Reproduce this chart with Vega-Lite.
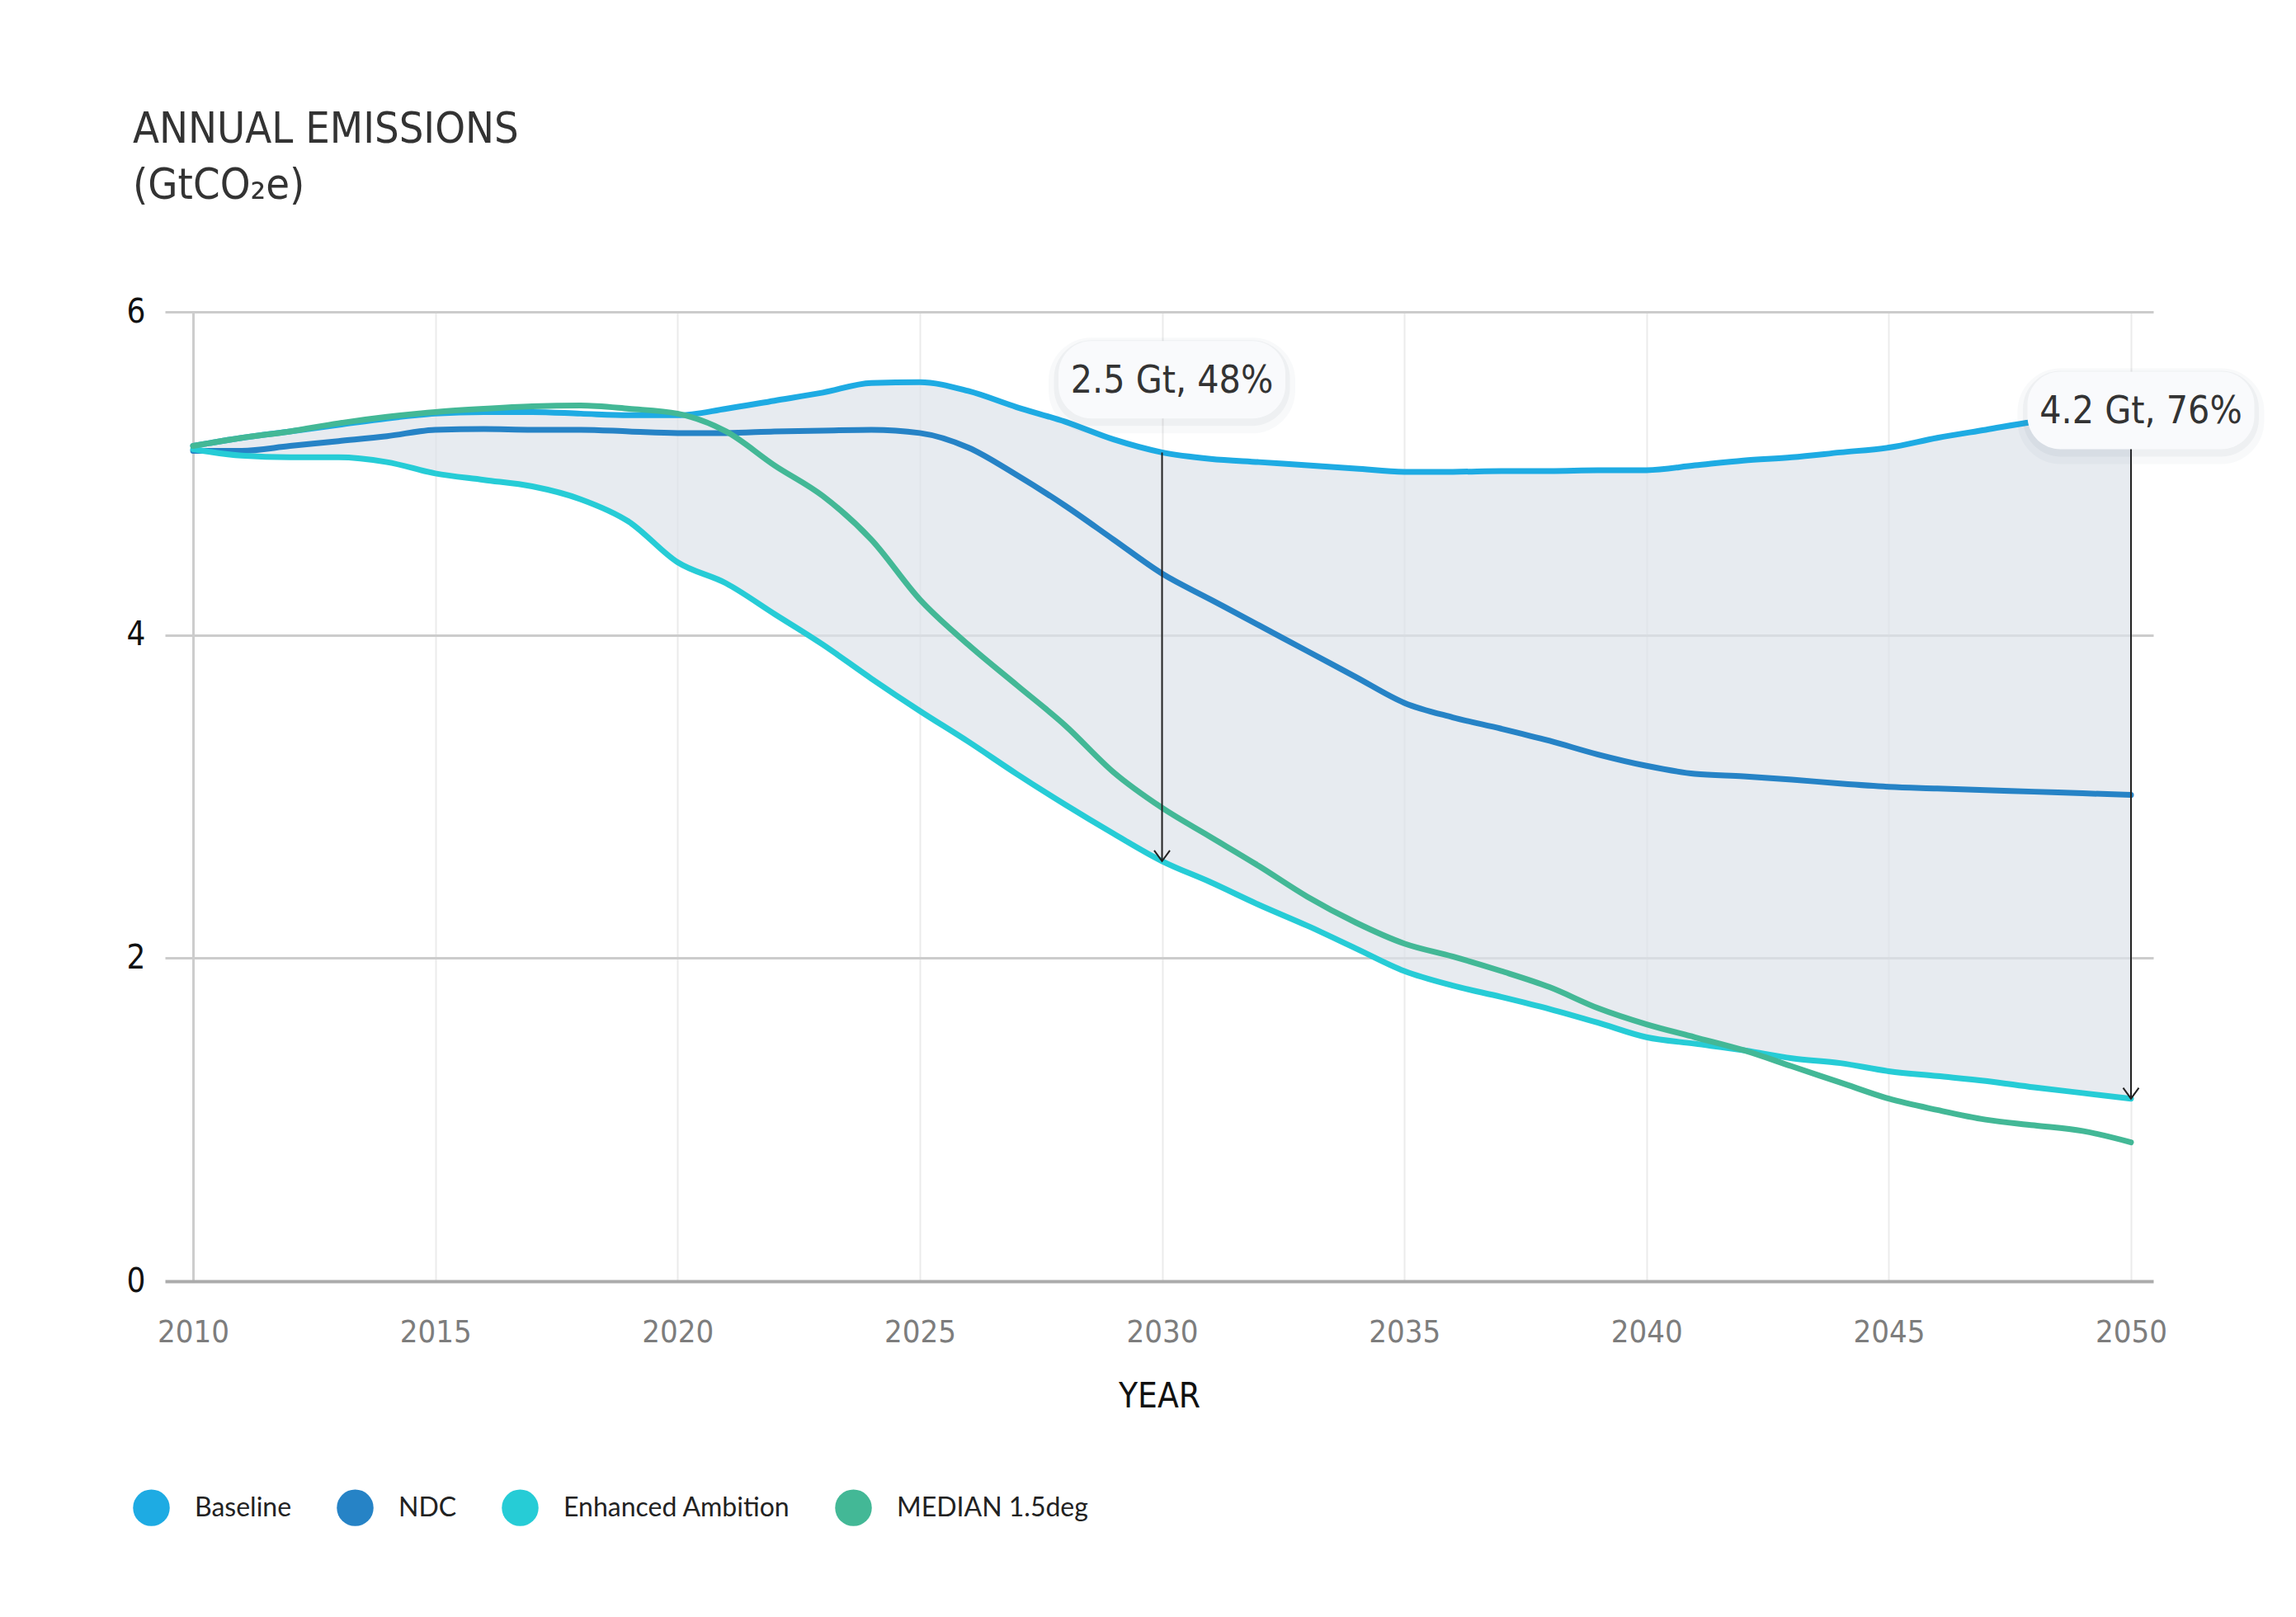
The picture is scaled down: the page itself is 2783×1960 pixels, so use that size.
{
  "$schema": "https://vega.github.io/schema/vega-lite/v6.json",
  "width": 2410,
  "height": 1175,
  "autosize": {"type": "none"},
  "padding": {"left": 200, "top": 378, "right": 173, "bottom": 407},
  "background": "#ffffff",
  "config": {
    "view": {"stroke": null},
    "font": "DejaVu Sans Condensed, sans-serif"
  },
  "title": {
    "text": ["ANNUAL EMISSIONS", "(GtCO₂e)"],
    "anchor": "start",
    "frame": "bounds",
    "font": "DejaVu Sans Condensed, sans-serif",
    "fontSize": 52,
    "fontWeight": "normal",
    "color": "#333333",
    "lineHeight": 68,
    "offset": 106,
    "dx": 8
  },
  "datasets": {
    "emissions": [
      {"year": 2010, "scenario": "Baseline", "value": 5.17},
      {"year": 2011, "scenario": "Baseline", "value": 5.22},
      {"year": 2012, "scenario": "Baseline", "value": 5.26},
      {"year": 2013, "scenario": "Baseline", "value": 5.30},
      {"year": 2014, "scenario": "Baseline", "value": 5.34},
      {"year": 2015, "scenario": "Baseline", "value": 5.37},
      {"year": 2016, "scenario": "Baseline", "value": 5.38},
      {"year": 2017, "scenario": "Baseline", "value": 5.38},
      {"year": 2018, "scenario": "Baseline", "value": 5.37},
      {"year": 2019, "scenario": "Baseline", "value": 5.36},
      {"year": 2020, "scenario": "Baseline", "value": 5.36},
      {"year": 2021, "scenario": "Baseline", "value": 5.40},
      {"year": 2022, "scenario": "Baseline", "value": 5.45},
      {"year": 2023, "scenario": "Baseline", "value": 5.50},
      {"year": 2024, "scenario": "Baseline", "value": 5.56},
      {"year": 2025, "scenario": "Baseline", "value": 5.565},
      {"year": 2026, "scenario": "Baseline", "value": 5.51},
      {"year": 2027, "scenario": "Baseline", "value": 5.41},
      {"year": 2028, "scenario": "Baseline", "value": 5.32},
      {"year": 2029, "scenario": "Baseline", "value": 5.21},
      {"year": 2030, "scenario": "Baseline", "value": 5.13},
      {"year": 2031, "scenario": "Baseline", "value": 5.09},
      {"year": 2032, "scenario": "Baseline", "value": 5.07},
      {"year": 2033, "scenario": "Baseline", "value": 5.05},
      {"year": 2034, "scenario": "Baseline", "value": 5.03},
      {"year": 2035, "scenario": "Baseline", "value": 5.01},
      {"year": 2036, "scenario": "Baseline", "value": 5.01},
      {"year": 2037, "scenario": "Baseline", "value": 5.015},
      {"year": 2038, "scenario": "Baseline", "value": 5.015},
      {"year": 2039, "scenario": "Baseline", "value": 5.02},
      {"year": 2040, "scenario": "Baseline", "value": 5.02},
      {"year": 2041, "scenario": "Baseline", "value": 5.05},
      {"year": 2042, "scenario": "Baseline", "value": 5.08},
      {"year": 2043, "scenario": "Baseline", "value": 5.10},
      {"year": 2044, "scenario": "Baseline", "value": 5.13},
      {"year": 2045, "scenario": "Baseline", "value": 5.16},
      {"year": 2046, "scenario": "Baseline", "value": 5.22},
      {"year": 2047, "scenario": "Baseline", "value": 5.27},
      {"year": 2048, "scenario": "Baseline", "value": 5.32},
      {"year": 2049, "scenario": "Baseline", "value": 5.35},
      {"year": 2050, "scenario": "Baseline", "value": 5.37},

      {"year": 2010, "scenario": "NDC", "value": 5.14},
      {"year": 2011, "scenario": "NDC", "value": 5.14},
      {"year": 2012, "scenario": "NDC", "value": 5.17},
      {"year": 2013, "scenario": "NDC", "value": 5.20},
      {"year": 2014, "scenario": "NDC", "value": 5.23},
      {"year": 2015, "scenario": "NDC", "value": 5.27},
      {"year": 2016, "scenario": "NDC", "value": 5.275},
      {"year": 2017, "scenario": "NDC", "value": 5.27},
      {"year": 2018, "scenario": "NDC", "value": 5.27},
      {"year": 2019, "scenario": "NDC", "value": 5.26},
      {"year": 2020, "scenario": "NDC", "value": 5.25},
      {"year": 2021, "scenario": "NDC", "value": 5.25},
      {"year": 2022, "scenario": "NDC", "value": 5.26},
      {"year": 2023, "scenario": "NDC", "value": 5.265},
      {"year": 2024, "scenario": "NDC", "value": 5.27},
      {"year": 2025, "scenario": "NDC", "value": 5.25},
      {"year": 2026, "scenario": "NDC", "value": 5.16},
      {"year": 2027, "scenario": "NDC", "value": 4.99},
      {"year": 2028, "scenario": "NDC", "value": 4.80},
      {"year": 2029, "scenario": "NDC", "value": 4.59},
      {"year": 2030, "scenario": "NDC", "value": 4.38},
      {"year": 2031, "scenario": "NDC", "value": 4.22},
      {"year": 2032, "scenario": "NDC", "value": 4.06},
      {"year": 2033, "scenario": "NDC", "value": 3.90},
      {"year": 2034, "scenario": "NDC", "value": 3.74},
      {"year": 2035, "scenario": "NDC", "value": 3.58},
      {"year": 2036, "scenario": "NDC", "value": 3.49},
      {"year": 2037, "scenario": "NDC", "value": 3.42},
      {"year": 2038, "scenario": "NDC", "value": 3.345},
      {"year": 2039, "scenario": "NDC", "value": 3.26},
      {"year": 2040, "scenario": "NDC", "value": 3.19},
      {"year": 2041, "scenario": "NDC", "value": 3.14},
      {"year": 2042, "scenario": "NDC", "value": 3.125},
      {"year": 2043, "scenario": "NDC", "value": 3.105},
      {"year": 2044, "scenario": "NDC", "value": 3.08},
      {"year": 2045, "scenario": "NDC", "value": 3.06},
      {"year": 2046, "scenario": "NDC", "value": 3.05},
      {"year": 2047, "scenario": "NDC", "value": 3.04},
      {"year": 2048, "scenario": "NDC", "value": 3.03},
      {"year": 2049, "scenario": "NDC", "value": 3.02},
      {"year": 2050, "scenario": "NDC", "value": 3.01},

      {"year": 2010, "scenario": "Enhanced Ambition", "value": 5.15},
      {"year": 2011, "scenario": "Enhanced Ambition", "value": 5.11},
      {"year": 2012, "scenario": "Enhanced Ambition", "value": 5.10},
      {"year": 2013, "scenario": "Enhanced Ambition", "value": 5.10},
      {"year": 2014, "scenario": "Enhanced Ambition", "value": 5.07},
      {"year": 2015, "scenario": "Enhanced Ambition", "value": 5.00},
      {"year": 2016, "scenario": "Enhanced Ambition", "value": 4.96},
      {"year": 2017, "scenario": "Enhanced Ambition", "value": 4.92},
      {"year": 2018, "scenario": "Enhanced Ambition", "value": 4.84},
      {"year": 2019, "scenario": "Enhanced Ambition", "value": 4.70},
      {"year": 2020, "scenario": "Enhanced Ambition", "value": 4.45},
      {"year": 2021, "scenario": "Enhanced Ambition", "value": 4.32},
      {"year": 2022, "scenario": "Enhanced Ambition", "value": 4.13},
      {"year": 2023, "scenario": "Enhanced Ambition", "value": 3.94},
      {"year": 2024, "scenario": "Enhanced Ambition", "value": 3.73},
      {"year": 2025, "scenario": "Enhanced Ambition", "value": 3.53},
      {"year": 2026, "scenario": "Enhanced Ambition", "value": 3.34},
      {"year": 2027, "scenario": "Enhanced Ambition", "value": 3.14},
      {"year": 2028, "scenario": "Enhanced Ambition", "value": 2.95},
      {"year": 2029, "scenario": "Enhanced Ambition", "value": 2.77},
      {"year": 2030, "scenario": "Enhanced Ambition", "value": 2.60},
      {"year": 2031, "scenario": "Enhanced Ambition", "value": 2.47},
      {"year": 2032, "scenario": "Enhanced Ambition", "value": 2.33},
      {"year": 2033, "scenario": "Enhanced Ambition", "value": 2.20},
      {"year": 2034, "scenario": "Enhanced Ambition", "value": 2.06},
      {"year": 2035, "scenario": "Enhanced Ambition", "value": 1.92},
      {"year": 2036, "scenario": "Enhanced Ambition", "value": 1.83},
      {"year": 2037, "scenario": "Enhanced Ambition", "value": 1.76},
      {"year": 2038, "scenario": "Enhanced Ambition", "value": 1.685},
      {"year": 2039, "scenario": "Enhanced Ambition", "value": 1.60},
      {"year": 2040, "scenario": "Enhanced Ambition", "value": 1.51},
      {"year": 2041, "scenario": "Enhanced Ambition", "value": 1.47},
      {"year": 2042, "scenario": "Enhanced Ambition", "value": 1.43},
      {"year": 2043, "scenario": "Enhanced Ambition", "value": 1.38},
      {"year": 2044, "scenario": "Enhanced Ambition", "value": 1.35},
      {"year": 2045, "scenario": "Enhanced Ambition", "value": 1.30},
      {"year": 2046, "scenario": "Enhanced Ambition", "value": 1.27},
      {"year": 2047, "scenario": "Enhanced Ambition", "value": 1.24},
      {"year": 2048, "scenario": "Enhanced Ambition", "value": 1.20},
      {"year": 2049, "scenario": "Enhanced Ambition", "value": 1.165},
      {"year": 2050, "scenario": "Enhanced Ambition", "value": 1.13},

      {"year": 2010, "scenario": "MEDIAN 1.5deg", "value": 5.17},
      {"year": 2011, "scenario": "MEDIAN 1.5deg", "value": 5.22},
      {"year": 2012, "scenario": "MEDIAN 1.5deg", "value": 5.26},
      {"year": 2013, "scenario": "MEDIAN 1.5deg", "value": 5.31},
      {"year": 2014, "scenario": "MEDIAN 1.5deg", "value": 5.35},
      {"year": 2015, "scenario": "MEDIAN 1.5deg", "value": 5.38},
      {"year": 2016, "scenario": "MEDIAN 1.5deg", "value": 5.40},
      {"year": 2017, "scenario": "MEDIAN 1.5deg", "value": 5.415},
      {"year": 2018, "scenario": "MEDIAN 1.5deg", "value": 5.42},
      {"year": 2019, "scenario": "MEDIAN 1.5deg", "value": 5.40},
      {"year": 2020, "scenario": "MEDIAN 1.5deg", "value": 5.37},
      {"year": 2021, "scenario": "MEDIAN 1.5deg", "value": 5.26},
      {"year": 2022, "scenario": "MEDIAN 1.5deg", "value": 5.05},
      {"year": 2023, "scenario": "MEDIAN 1.5deg", "value": 4.86},
      {"year": 2024, "scenario": "MEDIAN 1.5deg", "value": 4.59},
      {"year": 2025, "scenario": "MEDIAN 1.5deg", "value": 4.22},
      {"year": 2026, "scenario": "MEDIAN 1.5deg", "value": 3.94},
      {"year": 2027, "scenario": "MEDIAN 1.5deg", "value": 3.69},
      {"year": 2028, "scenario": "MEDIAN 1.5deg", "value": 3.44},
      {"year": 2029, "scenario": "MEDIAN 1.5deg", "value": 3.15},
      {"year": 2030, "scenario": "MEDIAN 1.5deg", "value": 2.93},
      {"year": 2031, "scenario": "MEDIAN 1.5deg", "value": 2.75},
      {"year": 2032, "scenario": "MEDIAN 1.5deg", "value": 2.57},
      {"year": 2033, "scenario": "MEDIAN 1.5deg", "value": 2.38},
      {"year": 2034, "scenario": "MEDIAN 1.5deg", "value": 2.22},
      {"year": 2035, "scenario": "MEDIAN 1.5deg", "value": 2.09},
      {"year": 2036, "scenario": "MEDIAN 1.5deg", "value": 2.01},
      {"year": 2037, "scenario": "MEDIAN 1.5deg", "value": 1.92},
      {"year": 2038, "scenario": "MEDIAN 1.5deg", "value": 1.82},
      {"year": 2039, "scenario": "MEDIAN 1.5deg", "value": 1.69},
      {"year": 2040, "scenario": "MEDIAN 1.5deg", "value": 1.59},
      {"year": 2041, "scenario": "MEDIAN 1.5deg", "value": 1.51},
      {"year": 2042, "scenario": "MEDIAN 1.5deg", "value": 1.43},
      {"year": 2043, "scenario": "MEDIAN 1.5deg", "value": 1.33},
      {"year": 2044, "scenario": "MEDIAN 1.5deg", "value": 1.23},
      {"year": 2045, "scenario": "MEDIAN 1.5deg", "value": 1.13},
      {"year": 2046, "scenario": "MEDIAN 1.5deg", "value": 1.06},
      {"year": 2047, "scenario": "MEDIAN 1.5deg", "value": 1.00},
      {"year": 2048, "scenario": "MEDIAN 1.5deg", "value": 0.965},
      {"year": 2049, "scenario": "MEDIAN 1.5deg", "value": 0.93},
      {"year": 2050, "scenario": "MEDIAN 1.5deg", "value": 0.86}
    ],
    "callouts": [
      {"year": 2030, "baseline": 5.13, "ambition": 2.60, "labelAt": 5.58, "label": "2.5 Gt, 48%"},
      {"year": 2050, "baseline": 5.37, "ambition": 1.13, "labelAt": 5.39, "label": "4.2 Gt, 76%"}
    ]
  },
  "layer": [
    {
      "data": {"name": "emissions"},
      "transform": [
        {"filter": {"field": "scenario", "oneOf": ["Baseline", "Enhanced Ambition"]}},
        {"pivot": "scenario", "value": "value", "groupby": ["year"]}
      ],
      "mark": {"type": "area", "color": "#dde2ea", "opacity": 0.7, "interpolate": "monotone"},
      "encoding": {
        "x": {
          "field": "year",
          "type": "quantitative",
          "scale": {"domain": [2009.42, 2050.46], "nice": false, "zero": false},
          "axis": {
            "values": [2010, 2015, 2020, 2025, 2030, 2035, 2040, 2045, 2050],
            "format": "d",
            "domain": false,
            "ticks": false,
            "labelFont": "DejaVu Sans Condensed, sans-serif",
            "labelFontSize": 38,
            "labelColor": "#7d7d7d",
            "labelPadding": 43,
            "gridColor": {"condition": {"test": "datum.value === 2010", "value": "#cdcdcd"}, "value": "#ebebeb"},
            "gridWidth": {"condition": {"test": "datum.value === 2010", "value": 3}, "value": 2},
            "title": "YEAR",
            "titleFont": "DejaVu Sans Condensed, sans-serif",
            "titleFontSize": 42,
            "titleFontWeight": "normal",
            "titleColor": "#111111",
            "titlePadding": 38
          }
        },
        "y": {
          "field": "Baseline",
          "type": "quantitative",
          "scale": {"domain": [0, 6], "nice": false},
          "axis": {
            "values": [0, 2, 4, 6],
            "format": "d",
            "domain": false,
            "ticks": false,
            "labelFont": "DejaVu Sans Condensed, sans-serif",
            "labelFontSize": 40,
            "labelColor": "#111111",
            "labelPadding": 24,
            "gridColor": {"condition": {"test": "datum.value === 0", "value": "#ababab"}, "value": "#cccccc"},
            "gridWidth": {"condition": {"test": "datum.value === 0", "value": 4}, "value": 3},
            "title": null
          }
        },
        "y2": {"field": "Enhanced Ambition"}
      }
    },
    {
      "data": {"name": "emissions"},
      "mark": {"type": "line", "interpolate": "monotone", "strokeWidth": 7, "strokeCap": "round"},
      "encoding": {
        "x": {"field": "year", "type": "quantitative"},
        "y": {"field": "value", "type": "quantitative"},
        "color": {
          "field": "scenario",
          "type": "nominal",
          "sort": ["Baseline", "NDC", "Enhanced Ambition", "MEDIAN 1.5deg"],
          "scale": {
            "domain": ["Baseline", "NDC", "Enhanced Ambition", "MEDIAN 1.5deg"],
            "range": ["#1eabe3", "#2683c6", "#26ccd6", "#43b896"]
          },
          "legend": {
            "title": null,
            "orient": "none",
            "legendX": -39,
            "legendY": 1427,
            "direction": "horizontal",
            "padding": 0,
            "symbolType": "circle",
            "symbolSize": 1980,
            "symbolStrokeWidth": 0,
            "symbolOpacity": 1,
            "labelFont": "Lato",
            "labelFontSize": 32,
            "labelColor": "#222222",
            "labelOffset": 30,
            "labelLimit": 0,
            "columnPadding": 54,
            "encode": {
              "symbols": {"update": {"fill": {"scale": "color", "field": "value"}, "strokeWidth": {"value": 0}}}
            }
          }
        }
      }
    },
    {
      "data": {"name": "callouts"},
      "mark": {"type": "rule", "color": "#222222", "strokeWidth": 2},
      "encoding": {
        "x": {"field": "year", "type": "quantitative"},
        "y": {"field": "baseline", "type": "quantitative"},
        "y2": {"field": "ambition"}
      }
    },
    {
      "data": {"name": "callouts"},
      "mark": {"type": "point", "shape": "M-1,-1.37L0,0L1,-1.37", "filled": false, "size": 361, "stroke": "#222222", "strokeWidth": 2, "opacity": 1},
      "encoding": {
        "x": {"field": "year", "type": "quantitative"},
        "y": {"field": "ambition", "type": "quantitative"}
      }
    },
    {
      "data": {"name": "callouts"},
      "mark": {"type": "rect", "width": 299, "height": 116, "cornerRadius": 52, "fill": "#56647d", "opacity": 0.04, "xOffset": 12, "yOffset": 7},
      "encoding": {
        "x": {"field": "year", "type": "quantitative"},
        "y": {"field": "labelAt", "type": "quantitative"}
      }
    },
    {
      "data": {"name": "callouts"},
      "mark": {"type": "rect", "width": 286, "height": 104, "cornerRadius": 46, "fill": "#56647d", "opacity": 0.06, "xOffset": 12, "yOffset": 4},
      "encoding": {
        "x": {"field": "year", "type": "quantitative"},
        "y": {"field": "labelAt", "type": "quantitative"}
      }
    },
    {
      "data": {"name": "callouts"},
      "mark": {"type": "rect", "width": 275, "height": 94, "cornerRadius": 40, "fill": "#f9fafc", "opacity": 1, "xOffset": 12},
      "encoding": {
        "x": {"field": "year", "type": "quantitative"},
        "y": {"field": "labelAt", "type": "quantitative"}
      }
    },
    {
      "data": {"name": "callouts"},
      "mark": {"type": "text", "font": "DejaVu Sans Condensed, sans-serif", "fontSize": 46, "color": "#333333", "align": "center", "baseline": "middle", "xOffset": 12, "dy": 2},
      "encoding": {
        "x": {"field": "year", "type": "quantitative"},
        "y": {"field": "labelAt", "type": "quantitative"},
        "text": {"field": "label"}
      }
    }
  ]
}
